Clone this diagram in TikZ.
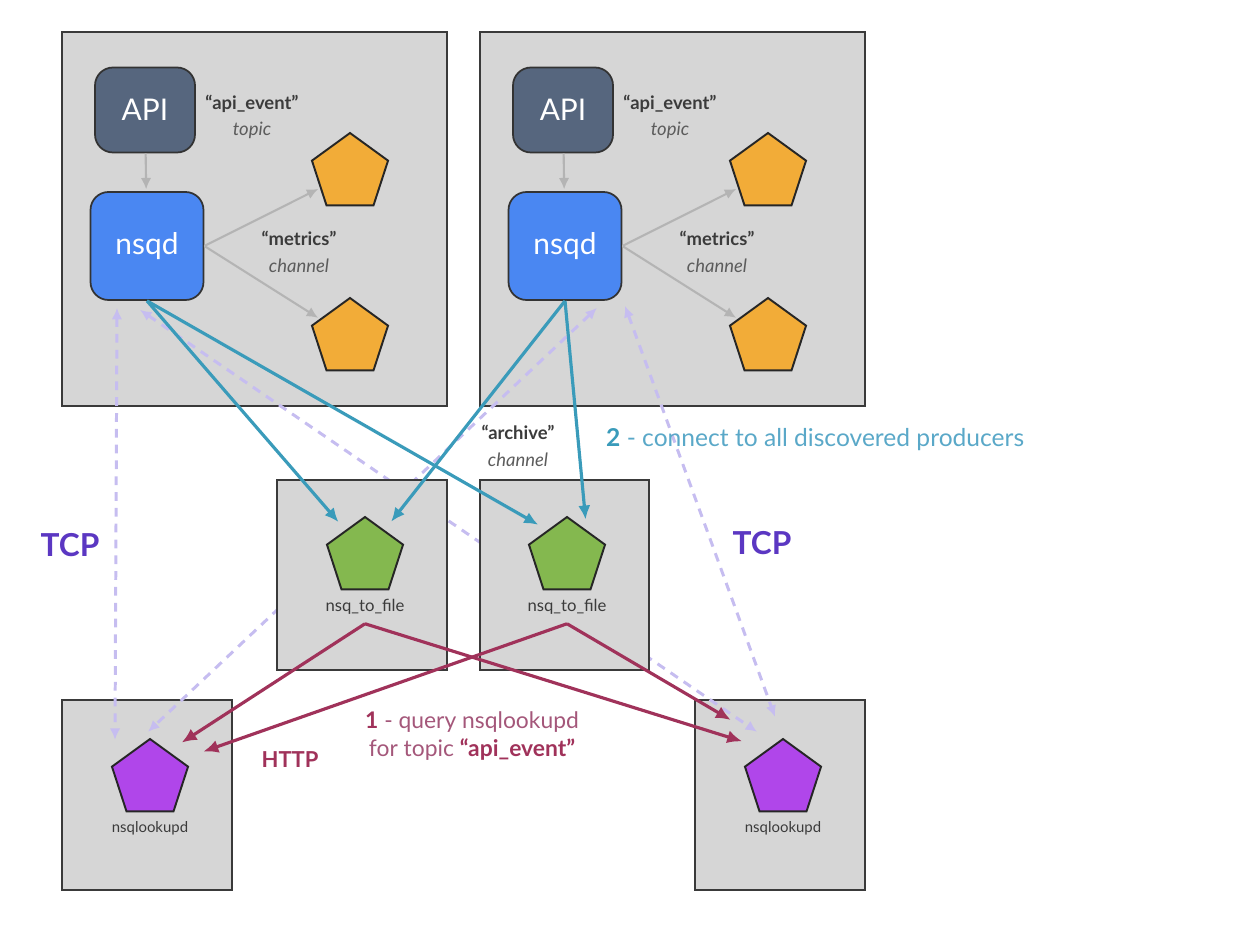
\documentclass[tikz,border=0pt]{standalone}
\usepackage{fontspec}
\setmainfont{Lato}
\usepackage{tikz}
\usetikzlibrary{shapes,arrows,arrows.meta,positioning,calc}
\definecolor{hostgray}{HTML}{D6D6D6}
\definecolor{hostline}{HTML}{3A3A3A}
\definecolor{apislate}{HTML}{56667E}
\definecolor{nsqdblue}{HTML}{4A87F2}
\definecolor{chorange}{HTML}{F2AC38}
\definecolor{filegreen}{HTML}{84B84F}
\definecolor{lookpurple}{HTML}{B046EA}
\definecolor{feedgray}{HTML}{B4B4B4}
\definecolor{pullteal}{HTML}{3A9BBA}
\definecolor{pulltext}{HTML}{5AA8C8}
\definecolor{querymaroon}{HTML}{A0325A}
\definecolor{querytext}{HTML}{A4577A}
\definecolor{tcplavender}{HTML}{C6BDF0}
\definecolor{tcpviolet}{HTML}{5B37C2}
\definecolor{notedark}{HTML}{3B3B3B}
\definecolor{notesoft}{HTML}{5C5C5C}

\begin{document}
\begin{tikzpicture}[x=0.02cm, y=-0.02cm, auto]
    % Define block styles
    \tikzstyle{host} = [rectangle, draw=hostline, fill=hostgray, line width=1.1pt]
    \tikzstyle{api} = [rectangle, draw=black!80, fill=apislate, rounded corners=0.36cm,
        minimum width=2cm, minimum height=1.7cm, text=white, line width=1pt,
        font=\fontsize{17}{17}\selectfont]
    \tikzstyle{daemon} = [api, fill=nsqdblue, minimum width=2.26cm, minimum height=2.16cm]
    \tikzstyle{penta} = [regular polygon, regular polygon sides=5, draw=black!85,
        line width=1.1pt, minimum size=1.6cm, inner sep=0pt]
    \tikzstyle{tag} = [text=notedark, inner sep=5pt, font=\fontsize{8.5}{9}\selectfont]
    \tikzstyle{note} = [align=center, text=notedark, font=\fontsize{10.5}{15}\selectfont]
    \tikzstyle{feed} = [draw=feedgray, line width=1.2pt, -{Latex[length=6.5pt,width=6pt]}, shorten >=1pt]
    \tikzstyle{pull} = [draw=pullteal, line width=1.8pt, -{Latex[length=8pt,width=7pt]}, shorten >=6pt]
    \tikzstyle{query} = [draw=querymaroon, line width=1.8pt, -{Latex[length=8.5pt,width=7.5pt]}]
    \tikzstyle{tcp} = [draw=tcplavender, line width=1.7pt, dash pattern=on 5pt off 4pt,
        {Latex[length=6.5pt,width=6pt]}-{Latex[length=6.5pt,width=6pt]}]

    \useasboundingbox (0,0) rectangle (1256,928);

    % Place hosts
    \node [host, minimum width=7.7cm, minimum height=7.48cm] (hostA) at (254.5,219) {};
    \node [host, minimum width=7.7cm, minimum height=7.48cm] (hostB) at (672.5,219) {};
    \node [host, minimum width=3.4cm, minimum height=3.8cm] (lookboxA) at (147,795) {};
    \node [host, minimum width=3.4cm, minimum height=3.8cm] (lookboxB) at (780,795) {};

    % Place producers
    \node [api] (apiA) at (145,110) {API};
    \node [daemon] (nsqdA) at (147,246) {nsqd};
    \node [penta, fill=chorange] (chA1) at (350,173) {};
    \node [penta, fill=chorange] (chA2) at (350,338) {};
    \node [api] (apiB) at (563,110) {API};
    \node [daemon] (nsqdB) at (565,246) {nsqd};
    \node [penta, fill=chorange] (chB1) at (768,173) {};
    \node [penta, fill=chorange] (chB2) at (768,338) {};

    % Place lookups
    \node [penta, fill=lookpurple] (lkA) at (150,779) {};
    \node [tag, below=0pt of lkA] (lkAtag) {nsqlookupd};
    \node [penta, fill=lookpurple] (lkB) at (783,779) {};
    \node [tag, below=0pt of lkB] (lkBtag) {nsqlookupd};

    % TCP links
    \path [tcp] ($(nsqdA.south)+(-30,7)$) -- ($(lkA.north)+(-35,2)$);
    \path [tcp] ($(nsqdA.south)+(-7,9)$) -- ($(lkB.north)+(-26,-6)$);
    \path [tcp] ($(nsqdB.south)+(32,7)$) -- ($(lkA.north)+(-2,-6)$);
    \path [tcp] ($(nsqdB.south)+(60,5)$) -- ($(lkB.north)+(-8,-21)$);

    % Place consumers
    \node [host, minimum width=3.4cm, minimum height=3.8cm] (consA) at (362,575) {};
    \node [host, minimum width=3.38cm, minimum height=3.8cm] (consB) at (564.5,575) {};
    \node [penta, fill=filegreen] (fileA) at (365,557) {};
    \node [tag, font=\fontsize{9.5}{10}\selectfont, below=0pt of fileA] (fileAtag) {nsq\_to\_file};
    \node [penta, fill=filegreen] (fileB) at (567,557) {};
    \node [tag, font=\fontsize{9.5}{10}\selectfont, below=0pt of fileB] (fileBtag) {nsq\_to\_file};

    % Draw edges
    \path [feed] (apiA) -- (nsqdA);
    \path [feed] (nsqdA.east) -- (chA1);
    \path [feed] (nsqdA.east) -- (chA2);
    \path [feed] (apiB) -- (nsqdB);
    \path [feed] (nsqdB.east) -- (chB1);
    \path [feed] (nsqdB.east) -- (chB2);

    \path [pull] (nsqdA.south) -- ($(fileA.corner 1)!0.5!(fileA.corner 2)$);
    \path [pull] (nsqdA.south) -- ($(fileB.corner 1)!0.5!(fileB.corner 2)$);
    \path [pull] (nsqdB.south) -- ($(fileA.corner 1)!0.5!(fileA.corner 5)$);
    \path [pull] (nsqdB.south) -- ($(fileB.corner 1)!0.5!(fileB.corner 5)$);

    \path [query, shorten >=9pt] (fileAtag.south) -- ($(lkA.corner 1)!0.47!(lkA.corner 5)$);
    \path [query, shorten >=14pt] (fileBtag.south) -- ($(lkA.corner 1)!0.77!(lkA.corner 5)$);
    \path [query, shorten >=15pt] (fileAtag.south) -- ($(lkB.corner 2)!0.6!(lkB.corner 1)$);
    \path [query, shorten >=28pt] (fileBtag.south) -- ($(lkB.corner 2)!0.75!(lkB.corner 1)$);

    % Labels
    \node [note] (topicA) at (252,117) {\textbf{“api\_event”}\\{\color{notesoft}\itshape topic}};
    \node [note] (topicB) at (670,117) {\textbf{“api\_event”}\\{\color{notesoft}\itshape topic}};
    \node [note] (metricsA) at (299,252) {\textbf{“metrics”}\\{\color{notesoft}\itshape channel}};
    \node [note] (metricsB) at (717,252) {\textbf{“metrics”}\\{\color{notesoft}\itshape channel}};
    \node [note] (archive) at (518,446) {\textbf{“archive”}\\{\color{notesoft}\itshape channel}};
    \node [anchor=west, text=pulltext, font=\fontsize{14}{16}\selectfont] (step2) at (600,440)
        {{\color{pullteal}\bfseries 2} - connect to all discovered producers};
    \node [align=center, text=querytext, font=\fontsize{13}{16}\selectfont] (step1) at (472,736)
        {{\color{querymaroon}\bfseries 1} - query nsqlookupd\\for topic {\color{querymaroon}\bfseries “api\_event”}};
    \node [text=querymaroon, font=\fontsize{12.5}{14}\selectfont\bfseries] (http) at (290,760) {HTTP};
    \node [text=tcpviolet, font=\fontsize{18}{20}\selectfont\bfseries] (tcpA) at (70,545) {TCP};
    \node [text=tcpviolet, font=\fontsize{18}{20}\selectfont\bfseries] (tcpB) at (762,543) {TCP};
\end{tikzpicture}
\end{document}
